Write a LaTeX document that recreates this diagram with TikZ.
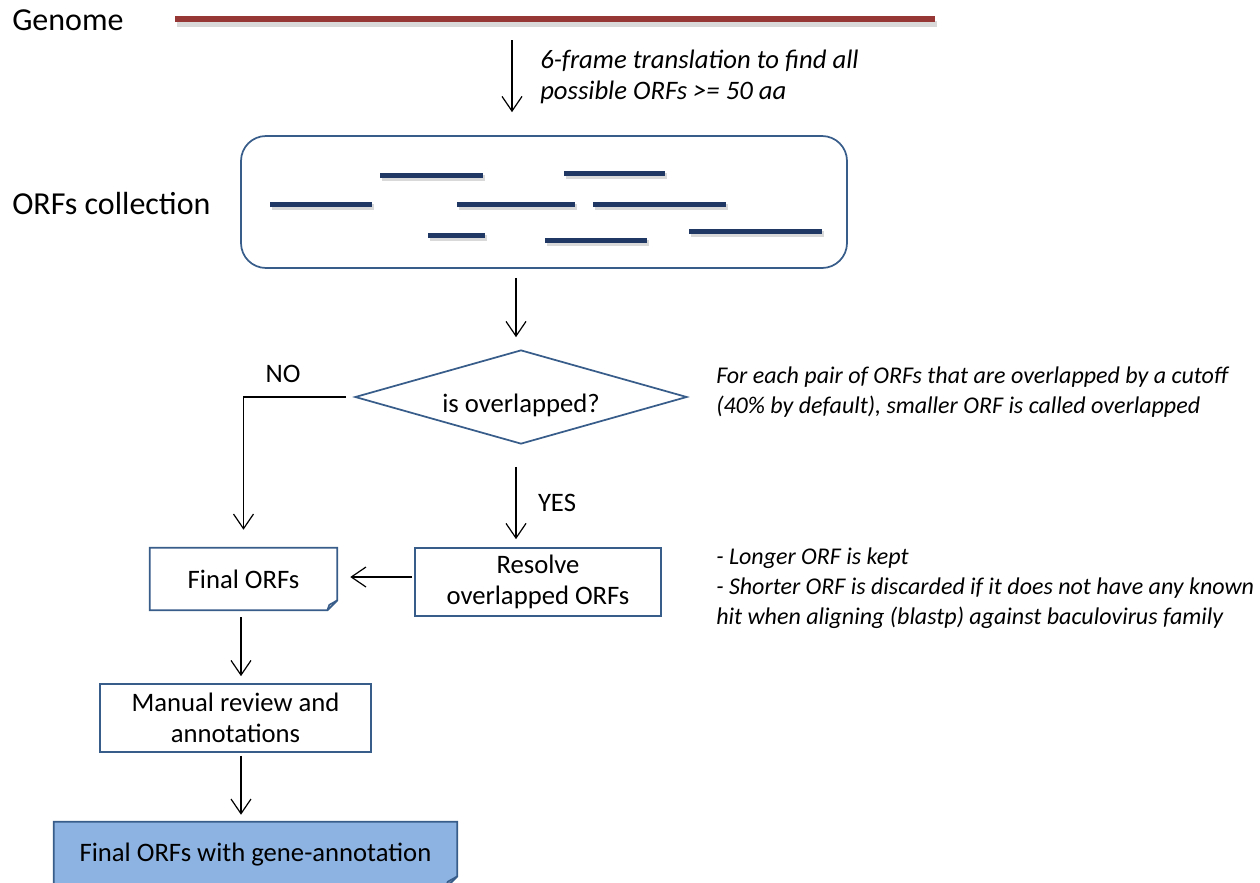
\documentclass[tikz,border=0pt]{standalone}
\usepackage{fontspec}
\setmainfont{Carlito}
\usetikzlibrary{arrows.meta,shapes.geometric,calc,backgrounds}
\definecolor{boxblue}{RGB}{56,93,138}
\definecolor{orfnavy}{RGB}{31,56,100}
\definecolor{genred}{RGB}{150,55,53}
\definecolor{fillblue}{RGB}{141,179,226}
\newcommand{\myfold}[3]{%
  \path[draw=boxblue, line width=1.3pt, fill=#2] (#1.north west) -- (#1.north east) -- ($(#1.south east)+(0,-#3)$) -- ($(#1.south east)+(-#3,0)$) -- (#1.south west) -- cycle;
  \path[draw=boxblue, line width=1.1pt, fill=#2!75!black, line join=round] ($(#1.south east)+(0,-#3)$) -- ($(#1.south east)+(-0.8*#3,-0.55*#3)$) -- ($(#1.south east)+(-#3,0)$) -- cycle;
}
\begin{document}
\begin{tikzpicture}[x=0.75pt,y=-0.75pt,
  arr/.style={draw=black, line width=0.9pt, -{Straight Barb[length=11pt,width=15pt,line width=0.9pt]}},
  bigtxt/.style={font=\fontsize{24}{29}\selectfont, anchor=west, inner sep=0},
  txt/.style={font=\fontsize{20}{23.5}\selectfont, align=center, inner sep=0},
  note/.style={font=\itshape\fontsize{18}{22.5}\selectfont, align=left, anchor=west, inner sep=0},
  orfbar/.style={line width=3.75pt, orfnavy},
  orfshadow/.style={line width=4pt, black!15},
  plainbox/.style={draw=boxblue, line width=1.3pt, fill=white, txt},
  foldnode/.style={txt}
]
\useasboundingbox (0,0) rectangle (1260,882);
\clip (0,0) rectangle (1260,882);

% Genome
\node[bigtxt] (genome) at (12,20) {Genome};
\coordinate (gl) at (175,19);
\coordinate (gr) at (935,19);
\draw[line width=4.5pt, black!15] ($(gl)+(2,5)$) -- ($(gr)+(2,5)$);
\draw[line width=4.5pt, genred] (gl) -- (gr);

% ORFs collection
\node[bigtxt] (orflabel) at (12,204) {ORFs collection};
\node[draw=boxblue, line width=1.3pt, rounded corners=18.75pt, minimum width=454.5pt, minimum height=99pt] (orfs) at (544,202) {};
\foreach \xa/\xb/\yy in {380/483/175, 564/665/173, 270/372/204, 457/575/204, 593/726/204, 428/485/235, 545/647/240, 689/822/231}{
  \draw[orfshadow] (\xa+2,\yy+3) -- (\xb+2,\yy+3);
  \draw[orfbar] (\xa,\yy) -- (\xb,\yy);
}

% first arrow and note
\coordinate (a1top) at (512,40);
\draw[arr, shorten >=17.25pt] (a1top) -- (a1top |- orfs.north);
\node[note, font=\itshape\fontsize{20}{23.25}\selectfont] (n0) at (540,77) {6-frame translation to find all\\possible ORFs >= 50 aa};

% diamond
\node[diamond, draw=boxblue, line width=1.3pt, fill=white, minimum width=249pt, minimum height=70.5pt, inner sep=0] (dia) at (521,397) {};
\node[txt] (diatxt) at (521,405) {is overlapped?};
\node[note] (n1) at (716,392) {For each pair of ORFs that are overlapped by a cutoff\\(40\% by default), smaller ORF is called overlapped};

% boxes
\node[foldnode, minimum width=140.25pt, minimum height=46.5pt] (fin) at (243.5,579) {Final ORFs};
\node[plainbox, minimum width=184.5pt, minimum height=51pt] (res) at (538,582) {Resolve\\overlapped ORFs};
\node[plainbox, minimum width=203.25pt, minimum height=51pt] (man) at (235.5,718) {Manual review and\\annotations};
\node[foldnode, minimum width=302.25pt, minimum height=49.5pt] (last) at (255.5,855) {Final ORFs with gene-annotation};
\begin{scope}[on background layer]
  \myfold{fin}{white}{10}
  \myfold{last}{fillblue}{12}
\end{scope}

\node[note] (n2) at (716,588) {- Longer ORF is kept\\- Shorter ORF is discarded if it does not have any known\\hit when aligning (blastp) against baculovirus family};

% labels
\node[txt] (no) at (283,374) {NO};
\node[txt] (yes) at (557,503) {YES};

% connector helper points
\coordinate (c2) at ($(orfs.south)+(-28,0)$);
\coordinate (c3) at ($(dia.south)+(-5,0)$);
\coordinate (c5) at ($(fin.south)+(-2.5,0)$);
\coordinate (c6) at ($(man.south)+(5.5,0)$);
\coordinate (c4) at ($(res.west)+(0,-5)$);

% connectors
\draw[arr, shorten <=6.75pt, shorten >=9pt] (c2) -- (c2 |- dia.north);
\draw[arr, shorten >=13.5pt] ([xshift=-6pt]dia.west) -| (fin.north);
\draw[arr, shorten <=16.5pt, shorten >=6pt] (c3) -- (c3 |- res.north);
\draw[arr, shorten <=1.5pt, shorten >=9.75pt] (c4) -- (c4 -| fin.east);
\draw[arr, shorten <=5.25pt, shorten >=5.25pt] (c5) -- (c5 |- man.north);
\draw[arr, shorten <=2.25pt, shorten >=5.25pt] (c6) -- (c6 |- last.north);
\end{tikzpicture}
\end{document}
